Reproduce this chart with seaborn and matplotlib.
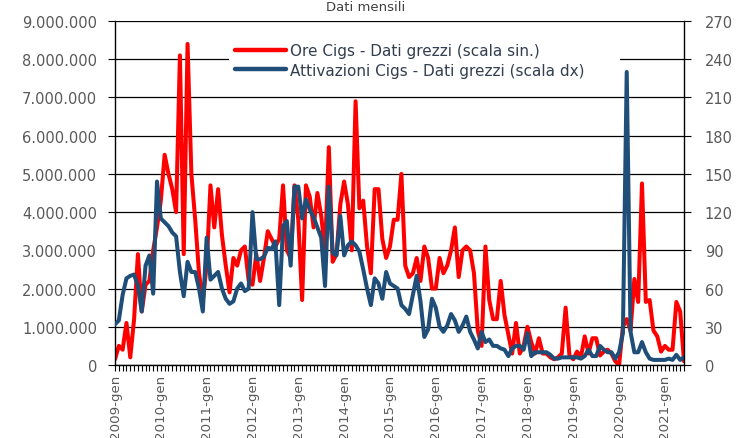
import numpy as np
import pandas as pd
import matplotlib
matplotlib.use("Agg")
import matplotlib.pyplot as plt
import seaborn as sns
from matplotlib.ticker import FuncFormatter, MultipleLocator, FixedLocator
from matplotlib.lines import Line2D

# ---- data (monthly, 2009-gen .. 2021-giu) ----
ore_2009 = [0.15, 0.5, 0.4, 1.1, 0.2, 1.2, 2.9, 1.4, 2.1, 2.2, 3.0, 3.6]
ore_2010 = [4.3, 5.5, 5.0, 4.6, 4.0, 8.1, 2.9, 8.4, 5.0, 3.8, 2.4, 1.7]
ore_2011 = [2.6, 4.7, 3.6, 4.6, 3.4, 2.6, 1.9, 2.8, 2.6, 3.0, 3.1, 2.2]
ore_2012 = [2.1, 2.9, 2.2, 2.8, 3.5, 3.3, 3.1, 3.3, 4.7, 3.0, 2.8, 4.7]
ore_2013 = [3.8, 1.7, 4.7, 4.4, 3.6, 4.5, 3.9, 3.0, 5.7, 2.7, 2.9, 4.2]
ore_2014 = [4.8, 4.2, 3.0, 6.9, 4.1, 4.3, 3.1, 2.4, 4.6, 4.6, 3.3, 2.8]
ore_2015 = [3.1, 3.8, 3.8, 5.0, 2.6, 2.3, 2.4, 2.8, 2.2, 3.1, 2.8, 2.0]
ore_2016 = [2.0, 2.8, 2.4, 2.6, 3.0, 3.6, 2.3, 3.0, 3.1, 3.0, 2.4, 0.9]
ore_2017 = [0.5, 3.1, 1.7, 1.2, 1.2, 2.2, 1.3, 0.8, 0.3, 1.1, 0.3, 0.5]
ore_2018 = [1.0, 0.6, 0.3, 0.7, 0.3, 0.3, 0.2, 0.15, 0.2, 0.3, 1.5, 0.25]
ore_2019 = [0.15, 0.35, 0.2, 0.75, 0.3, 0.7, 0.7, 0.25, 0.35, 0.4, 0.3, 0.1]
ore_2020 = [0.0, 1.0, 1.2, 0.9, 2.25, 1.65, 4.75, 1.65, 1.7, 0.9, 0.75, 0.35]
ore_2021 = [0.5, 0.4, 0.4, 1.65, 1.4, 0.1]

att_2009 = [32, 35, 55, 68, 70, 71, 62, 42, 78, 86, 56, 144]
att_2010 = [115, 112, 109, 104, 101, 73, 54, 81, 73, 73, 60, 42]
att_2011 = [100, 67, 70, 73, 60, 52, 48, 50, 60, 64, 58, 60]
att_2012 = [120, 83, 83, 85, 92, 91, 97, 47, 109, 113, 78, 140]
att_2013 = [140, 115, 130, 122, 116, 108, 100, 62, 140, 88, 86, 117]
att_2014 = [86, 94, 97, 94, 89, 75, 60, 47, 68, 64, 52, 73]
att_2015 = [64, 62, 60, 47, 44, 40, 55, 70, 50, 22, 28, 52]
att_2016 = [45, 30, 26, 31, 40, 35, 26, 31, 38, 26, 20, 13]
att_2017 = [26, 18, 20, 15, 15, 13, 12, 7, 13, 15, 15, 12]
att_2018 = [25, 7, 10, 10, 10, 10, 8, 5, 5, 6, 6, 6]
att_2019 = [6, 6, 5, 7, 12, 7, 7, 15, 12, 10, 10, 5]
att_2020 = [10, 25, 230, 26, 10, 10, 18, 10, 5, 4, 4, 4]
att_2021 = [4, 5, 4, 8, 4, 6]

ore_mln = (ore_2009 + ore_2010 + ore_2011 + ore_2012 + ore_2013 + ore_2014 + ore_2015
           + ore_2016 + ore_2017 + ore_2018 + ore_2019 + ore_2020 + ore_2021)
attivazioni = (att_2009 + att_2010 + att_2011 + att_2012 + att_2013 + att_2014 + att_2015
               + att_2016 + att_2017 + att_2018 + att_2019 + att_2020 + att_2021)

years = list(range(2009, 2022))
tick_labels = [f"{y}-gen" for y in years]
label_ore = "Ore Cigs - Dati grezzi (scala sin.)"
label_att = "Attivazioni Cigs - Dati grezzi (scala dx)"
title = "Dati mensili"

left_ticks = [0, 1e6, 2e6, 3e6, 4e6, 5e6, 6e6, 7e6, 8e6, 9e6]
right_ticks = [0, 30, 60, 90, 120, 150, 180, 210, 240, 270]

df = pd.DataFrame({
    "t": np.arange(len(ore_mln)),
    "ore": np.array(ore_mln) * 1e6,
    "att": attivazioni,
})

# ---- style ----
sns.set_theme(style="white")
plt.rcParams["font.family"] = ["DejaVu Sans"]

W, H = 737, 439
fig = plt.figure(figsize=(W / 100, H / 100), dpi=100, facecolor="white")
ax = fig.add_axes([115 / W, 1 - 366 / H, (684 - 115) / W, (366 - 22) / H])

RED = "#FF0000"
BLUE = "#1F4E79"
TXT = "#595959"

sns.lineplot(data=df, x="t", y="ore", ax=ax, color=RED, linewidth=2.9, legend=False)
ax2 = ax.twinx()
sns.lineplot(data=df, x="t", y="att", ax=ax2, color=BLUE, linewidth=2.9, legend=False)

ax.set_xlim(0, len(df) - 1)
ax.set_ylim(0, 9e6)
ax2.set_ylim(0, 270)

ax.set_xlabel("")
ax.set_ylabel("")
ax2.set_ylabel("")

ax.set_yticks(left_ticks)
ax.yaxis.set_major_formatter(FuncFormatter(lambda v, p: f"{int(round(v)):,}".replace(",", ".")))
ax2.set_yticks(right_ticks)

ax.xaxis.set_major_locator(FixedLocator([12 * k for k in range(len(years))]))
ax.set_xticklabels(tick_labels)
ax.xaxis.set_minor_locator(MultipleLocator(1))

ax.tick_params(axis="x", which="both", direction="out", length=4.5, width=0.8,
               color="black", bottom=True, labelsize=9.6, labelcolor=TXT,
               labelrotation=90, pad=2)
ax.tick_params(axis="y", direction="out", length=5, width=0.8, color="black",
               left=True, labelsize=10.5, labelcolor=TXT, pad=8)
ax2.tick_params(axis="y", direction="out", length=5, width=0.8, color="black",
                right=True, labelsize=10.5, labelcolor=TXT, pad=10)

ax.grid(axis="y", color="black", linewidth=0.9)
ax.grid(axis="x", visible=False)
ax.set_axisbelow(True)
ax2.grid(False)

for s in ["top", "right"]:
    ax.spines[s].set_visible(False)
for s in ["left", "bottom"]:
    ax.spines[s].set_color("black")
    ax.spines[s].set_linewidth(1.0)
for s in ["top", "left", "bottom"]:
    ax2.spines[s].set_visible(False)
ax2.spines["right"].set_color("black")
ax2.spines["right"].set_linewidth(1.0)

# legend
handles = [Line2D([], [], color=RED, lw=3.2), Line2D([], [], color=BLUE, lw=3.2)]
x0 = (229 - 115) / (684 - 115)
x1 = (620 - 115) / (684 - 115)
ytop = (366 - 38) / (366 - 22)
leg = ax2.legend(handles, [label_ore, label_att], loc="upper left",
                 bbox_to_anchor=(x0, ytop - 0.2, x1 - x0, 0.2), mode="expand",
                 frameon=True, facecolor="white", edgecolor="none", framealpha=1,
                 fancybox=False, handlelength=3.3, handletextpad=0.3,
                 labelspacing=0.3, borderpad=0.4, borderaxespad=0,
                 prop={"family": ["DejaVu Sans"], "size": 11})
for t in leg.get_texts():
    t.set_color("#333F50")
leg.set_zorder(10)

fig.text(366 / W, 1 - 1 / H, title, ha="center", va="top", fontsize=9.5, color="#404040")

fig.savefig("out.png", dpi=100, facecolor="white")
